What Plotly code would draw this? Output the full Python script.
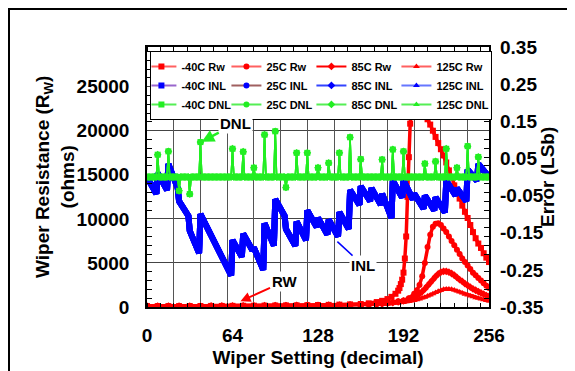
import plotly.graph_objects as go

FONT = "Liberation Sans, Arial, sans-serif"
RED = "#ff0000"
BLUE = "#0000ff"
GREEN = "#22ee22"

# ---- Wiper resistance (ohms), left axis ----
rw_m40_x = [0, 8, 16, 24, 32, 40, 48, 56, 64, 72, 80, 88, 96, 104, 112, 120, 128, 136, 144, 152, 160,
            166, 172, 176, 180, 183, 186, 188, 189, 190, 191, 192, 193, 194, 195, 196, 197, 198, 199, 200,
            202, 204, 206, 208, 210, 212, 214, 216, 218, 220, 222, 224, 226, 228, 230, 232, 234, 236, 238,
            240, 242, 244, 246, 248, 250, 252, 254, 256]
rw_m40 = [100, 100, 100, 100, 110, 110, 120, 120, 130, 140, 150, 160, 170, 180, 190, 200, 220, 240, 270, 300, 340,
          420, 560, 700, 900, 1150, 1500, 1850, 2150, 2600, 3100, 3900, 5500, 8000, 12500, 17000, 20800, 22800, 23300, 22900,
          22700, 22500, 22200, 21800, 21300, 20700, 20000, 19300, 18600, 17900, 17200, 16400, 15500, 14700, 13800, 13100,
          12300, 11500, 10800, 10100, 9300, 8500, 7800, 7200, 6700, 6100, 5600, 5100]

rw_x = [0, 8, 16, 24, 32, 40, 48, 56, 64, 72, 80, 88, 96, 104, 112, 120, 128, 136, 144, 152, 160,
        166, 172, 176, 180, 184, 188, 192, 196, 200,
        202, 204, 206, 208, 210, 212, 214, 216, 218, 220, 222, 224, 226, 228, 230, 232, 234, 236, 238,
        240, 242, 244, 246, 248, 250, 252, 254, 256]
rw_25 = [100, 100, 100, 100, 110, 110, 115, 120, 125, 130, 140, 150, 160, 170, 180, 190, 200, 215, 230, 250, 280,
         300, 350, 400, 470, 550, 650, 750, 1000, 1500,
         1900, 2500, 3500, 5000, 6800, 8200, 9100, 9450, 9500, 9300, 8900, 8500, 8000, 7500, 7000, 6500, 6000,
         5500, 5100, 4700, 4300, 3900, 3600, 3300, 3000, 2700, 2400, 2150]
rw_85 = [100, 100, 100, 100, 105, 110, 115, 120, 125, 130, 135, 145, 155, 165, 175, 185, 195, 205, 220, 235, 250,
         280, 320, 360, 420, 490, 580, 700, 900, 1150,
         1300, 1500, 1750, 2050, 2400, 2750, 3100, 3450, 3750, 3950, 4050, 4050, 3950, 3800, 3600, 3350, 3100,
         2900, 2650, 2450, 2250, 2050, 1900, 1750, 1600, 1450, 1300, 1200]
rw_125 = [100, 100, 100, 100, 105, 105, 110, 115, 120, 125, 130, 140, 150, 160, 170, 180, 190, 200, 210, 220, 230,
          250, 280, 310, 350, 400, 450, 520, 620, 740,
          820, 910, 1010, 1120, 1240, 1370, 1500, 1640, 1780, 1900, 2000, 2050, 2050, 2000, 1920, 1820, 1700,
          1580, 1460, 1350, 1250, 1150, 1060, 980, 900, 820, 750, 680]

# ---- INL (LSb), right axis: the four temperatures lie on top of each other ----
inl_x = [0, 7, 8, 15, 16, 23, 24, 31, 32, 39, 40, 63, 64, 71, 72, 79, 80, 87, 88, 95, 96, 103, 104, 111,
         112, 119, 120, 127, 128, 135, 136, 143, 144, 151, 152, 159, 160, 167, 168, 175, 176, 183, 184, 191,
         192, 199, 200, 207, 208, 215, 216, 223, 224, 231, 232, 239, 240, 247, 248, 256]
inl = [0.0, -0.045, 0.01, -0.035, 0.035, -0.03, -0.065, -0.105, -0.145, -0.205, -0.10, -0.265, -0.17, -0.215,
       -0.153, -0.198, -0.19, -0.25, -0.125, -0.185, -0.06, -0.105, -0.14, -0.185, -0.12, -0.17, -0.09, -0.135,
       -0.11, -0.155, -0.115, -0.16, -0.095, -0.14, -0.035, -0.075, -0.025, -0.065, -0.03, -0.075, -0.045, -0.11,
       -0.01, -0.055, -0.01, -0.06, -0.045, -0.085, -0.05, -0.09, -0.055, -0.095, -0.01, -0.05, -0.03, -0.065,
       0.02, -0.01, 0.035, 0.0]

# ---- DNL (LSb), right axis: flat at 0 with spikes at the carry codes ----
dnl_spike_x = [8, 16, 24, 32, 40, 64, 72, 80, 88, 96, 104, 112, 120, 128, 136, 144, 152, 160,
               176, 184, 192, 208, 216, 224, 232, 240, 248]
dnl_spike = [0.06, 0.069, -0.037, -0.046, 0.094, 0.076, 0.068, 0.025, 0.114, 0.123, -0.028, 0.065, 0.065,
             0.025, 0.038, 0.065, 0.107, 0.048, 0.047, 0.074, 0.069, 0.036, 0.042, 0.076, 0.025, 0.083, 0.054]
dnl_x = list(range(257))
dnl = [0.0] * len(dnl_x)
for c, v in zip(dnl_spike_x, dnl_spike):
    dnl[c] = v

# ---- ticks ----
x_ticks = [0, 64, 128, 192, 256]
err_ticks = [-0.35, -0.25, -0.15, -0.05, 0.05, 0.15, 0.25, 0.35]
err_labels = ["-0.35", "-0.25", "-0.15", "-0.05", "0.05", "0.15", "0.25", "0.35"]

temps = ["-40C", "25C", "85C", "125C"]
symbols = ["square", "circle", "diamond", "triangle-up"]
rw_series = [(rw_m40_x, rw_m40), (rw_x, rw_25), (rw_x, rw_85), (rw_x, rw_125)]

# the page puts the figure 8px in from the corner, so the plot box is set from that
L, T, PW, PH = 139, 39, 342, 260
W, H = 575, 371

fig = go.Figure()

# data traces (drawn in this order, legend entries come separately)
for (xs, ys), sym in zip(rw_series, symbols):
    fig.add_trace(go.Scatter(x=xs, y=ys, mode="lines+markers", showlegend=False, hoverinfo="skip",
                             line=dict(color=RED, width=3.5),
                             marker=dict(symbol=sym, size=6, color=RED)))
for t in temps:
    fig.add_trace(go.Scatter(x=inl_x, y=inl, yaxis="y2", mode="lines", showlegend=False, hoverinfo="skip",
                             line=dict(color=BLUE, width=6)))
for i in [1, 2, 3, 0]:
    fig.add_trace(go.Scatter(x=dnl_x, y=dnl, yaxis="y2", mode="lines+markers", showlegend=False,
                             hoverinfo="skip", line=dict(color=GREEN, width=1.5),
                             marker=dict(symbol=symbols[i], size=6, color=GREEN)))

# gridline axis helper
fig.add_trace(go.Scatter(x=[None], y=[None], xaxis="x2", showlegend=False, hoverinfo="skip"))

# legend entries
leg_lines = {
    "Rw": ["#ff6060", "#ff6060", RED, "#ff6060"],
    "INL": ["#9966cc", "#a06060", "#3344ff", "#6677ff"],
    "DNL": ["#55ee55", "#55ee55", "#55ee55", "#55ee55"],
}
leg_marks = {"Rw": RED, "INL": BLUE, "DNL": GREEN}
for kind in ["Rw", "INL", "DNL"]:
    for t, sym, lc in zip(temps, symbols, leg_lines[kind]):
        fig.add_trace(go.Scatter(x=[None], y=[None], name=f"{t} {kind}", mode="lines+markers",
                                 line=dict(color=lc, width=2),
                                 marker=dict(symbol=sym, size=6, color=leg_marks[kind])))

fig.update_layout(
    width=W, height=H,
    margin=dict(l=L, r=W - L - PW, t=T, b=H - T - PH, autoexpand=False),
    paper_bgcolor="white", plot_bgcolor="white",
    font=dict(family=FONT, size=19, color="black", weight="bold"),
    xaxis=dict(range=[0, 256], tickmode="array", tickvals=x_ticks, ticktext=[str(v) for v in x_ticks],
               showgrid=False, zeroline=False, showline=True, linecolor="black", linewidth=1.5,
               mirror="ticks", ticks="", ticklabelstandoff=10,
               minor=dict(tickmode="linear", tick0=0, dtick=10, ticks="inside", ticklen=4,
                          tickcolor="black", showgrid=False),
               title=dict(text="Wiper Setting (decimal)", standoff=6, font=dict(size=19))),
    xaxis2=dict(overlaying="x", anchor="y", range=[0, 256], tickmode="linear", tick0=0, dtick=20,
                showgrid=True, gridcolor="#555555", gridwidth=1, showticklabels=False, ticks="",
                zeroline=False, showline=False),
    yaxis=dict(range=[0, 29500], tickmode="linear", tick0=0, dtick=5000, tickformat="d",
               showgrid=True, gridcolor="#444444", gridwidth=1, zeroline=False,
               showline=True, linecolor="black", linewidth=1.5, mirror="ticks", ticks="",
               ticklabelstandoff=12,
               minor=dict(tickmode="linear", tick0=0, dtick=1000, ticks="inside", ticklen=5,
                          tickcolor="black", showgrid=False)),
    yaxis2=dict(overlaying="y", side="right", range=[-0.35, 0.35], tickmode="array",
                tickvals=err_ticks, ticktext=err_labels, showgrid=False, zeroline=False,
                showline=False, ticks="", ticklabelstandoff=10),
    legend=dict(orientation="h", x=0.01, y=0.985, xanchor="left", yanchor="top",
                entrywidth=50, entrywidthmode="pixels", itemwidth=30, indentation=-10,
                font=dict(size=11, family=FONT, weight="bold"),
                bgcolor="white", bordercolor="black", borderwidth=1),
    shapes=[dict(type="rect", xref="paper", yref="paper",
                 x0=(1 - L) / PW, x1=1.3, y0=-0.4, y1=(T + PH - 1) / PH,
                 line=dict(color="black", width=2), layer="above")],
    annotations=[
        # axis titles for the two y axes
        dict(text="Wiper Resistance (R<sub>W</sub>)<br>(ohms)", textangle=-90,
             x=(47 - L) / PW, y=0.5, xref="paper", yref="paper", xanchor="center", yanchor="middle",
             showarrow=False, font=dict(size=19)),
        dict(text="Error (LSb)", textangle=-90,
             x=(539 - L) / PW, y=0.5, xref="paper", yref="paper", xanchor="center", yanchor="middle",
             showarrow=False, font=dict(size=19)),
        # callouts
        dict(text="DNL", x=41, y=0.095, xref="x", yref="y2", ax=34, ay=-18,
             showarrow=True, arrowhead=2, arrowsize=1, arrowwidth=2.5, arrowcolor=GREEN,
             bgcolor="white", font=dict(size=15)),
        dict(text="INL", x=142.5, y=-0.174, xref="x", yref="y2", ax=26, ay=24,
             showarrow=True, arrowhead=0, arrowwidth=1.5, arrowcolor=BLUE,
             bgcolor="white", font=dict(size=15)),
        dict(text="RW", x=70, y=650, xref="x", yref="y", ax=44, ay=-20,
             showarrow=True, arrowhead=2, arrowsize=1, arrowwidth=2, arrowcolor=RED,
             bgcolor="white", font=dict(size=15)),
    ],
)

fig.write_html("out.html")
